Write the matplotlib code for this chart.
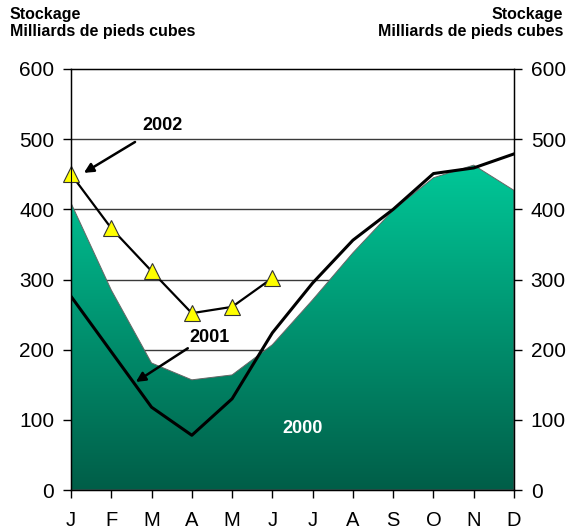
import matplotlib
matplotlib.use("Agg")
import matplotlib.pyplot as plt
import numpy as np
from matplotlib.colors import LinearSegmentedColormap

plt.rcParams['font.family'] = ['Liberation Sans', 'DejaVu Sans']

months = ['J', 'F', 'M', 'A', 'M', 'J', 'J', 'A', 'S', 'O', 'N', 'D']
s2000 = [409, 285, 181, 157, 164, 207, 271, 338, 399, 445, 463, 427]
s2001 = [276, 197, 118, 78, 130, 224, 295, 356, 400, 451, 459, 479]
s2002 = [450, 373, 312, 252, 261, 302]
yticks = [0, 100, 200, 300, 400, 500, 600]

fig = plt.figure(figsize=(5.76, 5.31), dpi=100)
ax = fig.add_axes([71/576, 1-490/531, (514-71)/576, (490-69)/531])
x = np.arange(len(months))

# grid behind
for yv in [200, 300, 400, 500]:
    ax.axhline(yv, color='#3a3a3a', lw=1.0, zorder=0)

# gradient area
poly = ax.fill_between(x, 0, s2000, facecolor='none', edgecolor='#666666', lw=0.7, zorder=2)
cmap = LinearSegmentedColormap.from_list('g', ['#005e48', '#00c999'])
grad = np.linspace(0, 1, 256).reshape(-1, 1)
im = ax.imshow(grad, extent=[0, 11, 0, 470], origin='lower', aspect='auto', cmap=cmap, zorder=1)
path = poly.get_paths()[0]
im.set_clip_path(path, transform=ax.transData)

ax.plot(x, s2001, color='black', lw=2.2, zorder=3)
ax.plot(x[:len(s2002)], s2002, color='black', lw=1.6, marker='^', markersize=11,
        markerfacecolor='#ffff00', markeredgecolor='#333333', markeredgewidth=0.8,
        zorder=6, clip_on=False)

ax.set_xlim(0, 11)
ax.set_ylim(0, 600)
ax.set_xticks(x)
ax.set_xticklabels(months)
ax.set_yticks(yticks)
ax.tick_params(axis='both', labelsize=15, length=6, width=1, direction='out')
ax.tick_params(axis='y', pad=6)
ax.tick_params(axis='x', labelsize=14.5, pad=9)
for s in ['left', 'right', 'bottom', 'top']:
    ax.spines[s].set_linewidth(1.0)

ax2 = ax.twinx()
ax2.set_ylim(0, 600)
ax2.set_yticks(yticks)
ax2.tick_params(axis='y', labelsize=15, length=6, width=1, direction='out', pad=6)

arrow = dict(arrowstyle='-|>', color='black', lw=1.8, mutation_scale=14, shrinkA=0, shrinkB=0)
# annotations
ax.annotate('', xy=(0.32, 452), xytext=(1.59, 496), arrowprops=arrow, zorder=5)
ax.text(2.26, 520, '2002', fontsize=13, fontweight='bold', ha='center', va='center', zorder=5)
ax.annotate('', xy=(1.61, 154), xytext=(2.9, 202), arrowprops=arrow, zorder=5)
ax.text(3.45, 218, '2001', fontsize=13, fontweight='bold', ha='center', va='center', zorder=5)
ax.text(5.75, 88, '2000', fontsize=13, fontweight='bold', color='white', ha='center', va='center', zorder=5)

fig.text(10/576, 1-7/531, 'Stockage\nMilliards de pieds cubes', fontsize=11.5, fontweight='bold',
         ha='left', va='top', linespacing=1.15)
fig.text(1-13/576, 1-7/531, 'Stockage\nMilliards de pieds cubes', fontsize=11.5, fontweight='bold',
         ha='right', va='top', linespacing=1.15, multialignment='right')

fig.savefig('out.png', dpi=100)
